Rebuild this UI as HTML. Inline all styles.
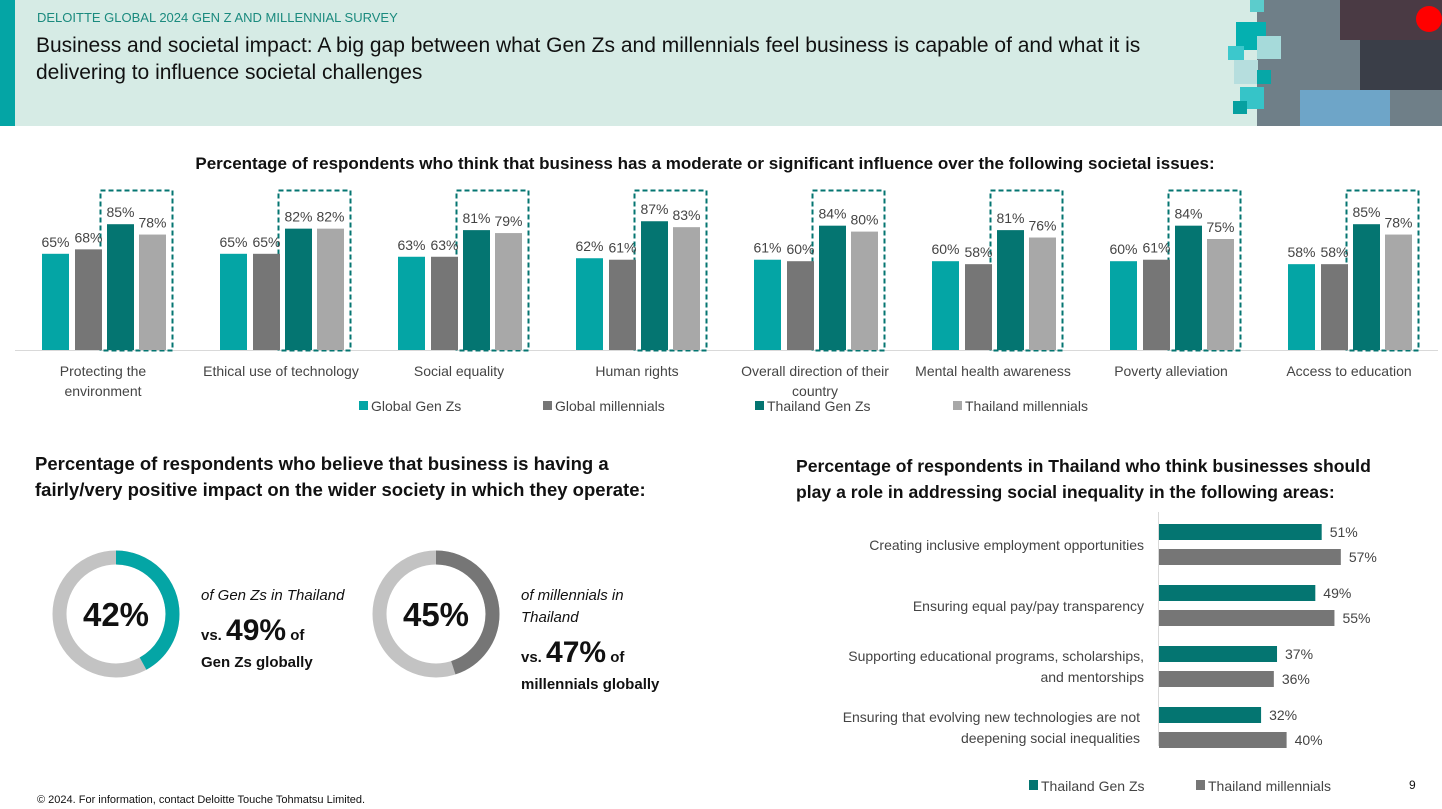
<!DOCTYPE html>
<html><head><meta charset="utf-8"><style>
body{margin:0;width:1442px;height:809px;background:#fff;font-family:"Liberation Sans",sans-serif;overflow:hidden;position:relative}
svg{position:absolute;left:0;top:0}
</style></head><body>
<svg width="1442" height="809" viewBox="0 0 1442 809" font-family="Liberation Sans, sans-serif">
<rect x="0" y="0" width="1442" height="126" fill="#d6ebe5"/>
<rect x="0" y="0" width="15" height="126" fill="#04a5a5"/>
<rect x="1257" y="0" width="185" height="126" fill="#6f7f88"/>
<rect x="1340" y="0" width="102" height="40" fill="#4a3a44"/>
<rect x="1360" y="40" width="82" height="50" fill="#3a3e48"/>
<rect x="1300" y="90" width="90" height="36" fill="#6ea5c8"/>
<circle cx="1429" cy="19" r="13" fill="#f00"/>
<rect x="1236" y="22" width="30" height="28" fill="#04b0b0"/>
<rect x="1257" y="36" width="24" height="23" fill="#a6dada"/>
<rect x="1228" y="46" width="16" height="14" fill="#3cc8cc"/>
<rect x="1234" y="60" width="24" height="24" fill="#b6dede"/>
<rect x="1257" y="70" width="14" height="14" fill="#06a7a7"/>
<rect x="1240" y="87" width="24" height="22" fill="#36c4c8"/>
<rect x="1233" y="101" width="14" height="13" fill="#06a0a0"/>
<rect x="1250" y="0" width="14" height="12" fill="#5ccccc"/>
<text x="37" y="22" font-size="13" fill="#1a8a7e">DELOITTE GLOBAL 2024 GEN Z AND MILLENNIAL SURVEY</text>
<text x="36" y="52" font-size="21" fill="#111">Business and societal impact: A big gap between what Gen Zs and millennials feel business is capable of and what it is</text>
<text x="36" y="79" font-size="21" fill="#111">delivering to influence societal challenges</text>
<text x="705" y="169" font-size="17" font-weight="bold" text-anchor="middle" fill="#111">Percentage of respondents who think that business has a moderate or significant influence over the following societal issues:</text>
<line x1="15" y1="350.5" x2="1438" y2="350.5" stroke="#d9d9d9"/>
<g font-size="14" fill="#444" text-anchor="middle" id="bars"></g>
<g font-size="14" fill="#444" text-anchor="middle">
<text x="103" y="376">Protecting the</text><text x="103" y="396">environment</text>
<text x="281" y="376">Ethical use of technology</text>
<text x="459" y="376">Social equality</text>
<text x="637" y="376">Human rights</text>
<text x="815" y="376">Overall direction of their</text><text x="815" y="396">country</text>
<text x="993" y="376">Mental health awareness</text>
<text x="1171" y="376">Poverty alleviation</text>
<text x="1349" y="376">Access to education</text>
</g>
<g font-size="14" fill="#444">
<rect x="359" y="401" width="9" height="9" fill="#04a5a5"/><text x="371" y="411">Global Gen Zs</text>
<rect x="543" y="401" width="9" height="9" fill="#767676"/><text x="555" y="411">Global millennials</text>
<rect x="755" y="401" width="9" height="9" fill="#047571"/><text x="767" y="411">Thailand Gen Zs</text>
<rect x="953" y="401" width="9" height="9" fill="#a8a8a8"/><text x="965" y="411">Thailand millennials</text>
</g>
<g font-weight="bold" fill="#111">
<text x="35" y="470" font-size="18.5">Percentage of respondents who believe that business is having a</text>
<text x="35" y="496" font-size="18.5">fairly/very positive impact on the wider society in which they operate:</text>
<text x="796" y="472" font-size="17.6">Percentage of respondents in Thailand who think businesses should</text>
<text x="796" y="498" font-size="17.6">play a role in addressing social inequality in the following areas:</text>
</g>
<circle cx="116" cy="614" r="56.5" fill="none" stroke="#c3c3c3" stroke-width="14"/>
<circle cx="116" cy="614" r="56.5" fill="none" stroke="#04a5a5" stroke-width="14" stroke-dasharray="149.1 400" transform="rotate(-90 116 614)"/>
<text x="116" y="626" font-size="33" font-weight="bold" text-anchor="middle" fill="#111">42%</text>
<circle cx="436" cy="614" r="56.5" fill="none" stroke="#c3c3c3" stroke-width="14"/>
<circle cx="436" cy="614" r="56.5" fill="none" stroke="#767676" stroke-width="14" stroke-dasharray="159.7 400" transform="rotate(-90 436 614)"/>
<text x="436" y="626" font-size="33" font-weight="bold" text-anchor="middle" fill="#111">45%</text>
<text x="201" y="600" font-size="15" font-style="italic" fill="#111">of Gen Zs in Thailand</text>
<text x="201" y="640" fill="#111" font-weight="bold"><tspan font-size="15">vs. </tspan><tspan font-size="30">49%</tspan><tspan font-size="15"> of</tspan></text>
<text x="201" y="667" font-size="15" font-weight="bold" fill="#111">Gen Zs globally</text>
<text x="521" y="600" font-size="15" font-style="italic" fill="#111">of millennials in</text>
<text x="521" y="622" font-size="15" font-style="italic" fill="#111">Thailand</text>
<text x="521" y="662" fill="#111" font-weight="bold"><tspan font-size="15">vs. </tspan><tspan font-size="30">47%</tspan><tspan font-size="15"> of</tspan></text>
<text x="521" y="689" font-size="15" font-weight="bold" fill="#111">millennials globally</text>
<line x1="1158.5" y1="512" x2="1158.5" y2="746" stroke="#d9d9d9"/>
<g id="hb" font-size="14" fill="#444"></g>
<g font-size="14" fill="#444" text-anchor="end">
<text x="1144" y="550">Creating inclusive employment opportunities</text>
<text x="1144" y="611">Ensuring equal pay/pay transparency</text>
<text x="1144" y="661">Supporting educational programs, scholarships,</text>
<text x="1144" y="682">and mentorships</text>
<text x="1140" y="722">Ensuring that evolving new technologies are not</text>
<text x="1140" y="743">deepening social inequalities</text>
</g>
<g font-size="14" fill="#444">
<rect x="1029" y="780" width="9" height="10" fill="#047571"/><text x="1041" y="791">Thailand Gen Zs</text>
<rect x="1196" y="780" width="9" height="10" fill="#767676"/><text x="1208" y="791">Thailand millennials</text>
</g>
<text x="1409" y="789" font-size="12" fill="#111">9</text>
<text x="37" y="803" font-size="11" fill="#111">© 2024. For information, contact Deloitte Touche Tohmatsu Limited.</text>
</svg>
<script>
var d=[[65,68,85,78],[65,65,82,82],[63,63,81,79],[62,61,87,83],[61,60,84,80],[60,58,81,76],[60,61,84,75],[58,58,85,78]];
var c=["#04a5a5","#767676","#047571","#a8a8a8"],off=[0,33,65,97],s='';
d.forEach(function(g,i){var x0=42+i*178;
s+='<rect x="'+(x0+58.5)+'" y="190.5" width="72" height="160" fill="none" stroke="#047571" stroke-width="2" stroke-dasharray="5 3"/>';
g.forEach(function(v,j){var h=v*1.48,x=x0+off[j];
s+='<rect x="'+x+'" y="'+(350-h)+'" width="27" height="'+h+'" fill="'+c[j]+'"/>';
s+='<text x="'+(x+13.5)+'" y="'+(350-h-7)+'">'+v+'%</text>';});});
document.getElementById('bars').innerHTML=s;
var h=[[51,57],[49,55],[37,36],[32,40]],t='';
h.forEach(function(p,i){var y=524+i*61;
t+='<rect x="1159" y="'+y+'" width="'+p[0]*3.19+'" height="16" fill="#047571"/><text x="'+(1167+p[0]*3.19)+'" y="'+(y+13)+'">'+p[0]+'%</text>';
t+='<rect x="1159" y="'+(y+25)+'" width="'+p[1]*3.19+'" height="16" fill="#767676"/><text x="'+(1167+p[1]*3.19)+'" y="'+(y+38)+'">'+p[1]+'%</text>';});
document.getElementById('hb').innerHTML=t;
</script>
</body></html>
